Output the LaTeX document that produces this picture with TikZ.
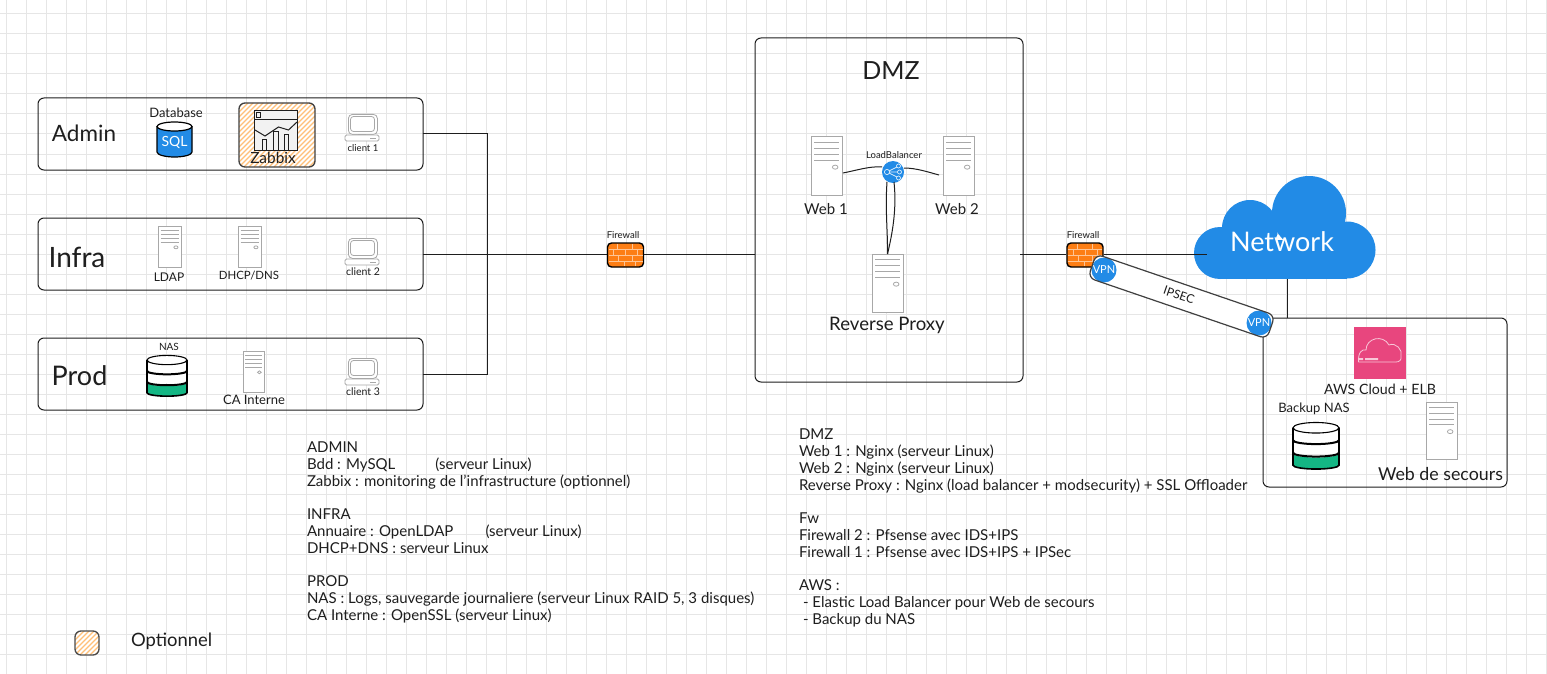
\documentclass[tikz,border=0pt]{standalone}
\usepackage{fontspec}
\setmainfont{Lato}
\usetikzlibrary{calc}
\definecolor{grille}{HTML}{E6E6E6}
\definecolor{encre}{HTML}{1E1E1E}
\definecolor{bleu}{HTML}{228BE6}
\definecolor{vert}{HTML}{14B684}
\definecolor{orange}{HTML}{FD7E14}
\definecolor{hachure}{HTML}{FFC078}
\definecolor{rose}{HTML}{E8467E}
\definecolor{gris}{HTML}{A8A8A8}
\newcommand\fs[1]{\fontsize{#1pt}{#1pt}\selectfont}
\tikzset{
  lbl/.style={inner sep=0pt,outer sep=0pt,text=encre},
  boite/.style={draw=encre,line width=1pt,rounded corners=6pt,inner sep=0pt,outer sep=0pt},
  lien/.style={draw=encre,line width=1pt},
  srv/.style={draw=gris,line width=1pt,fill=white,inner sep=0pt,outer sep=0pt},
  bloc/.style={lbl,anchor=north west,align=left,font=\fontsize{15pt}{16.75pt}\selectfont},
  badge/.style={circle,fill=bleu,text=white,inner sep=0pt,minimum size=25pt,font=\fs{11}},
}
\newcommand\serveur[5]{%
  \node[srv,anchor=north west,minimum width=#4pt,minimum height=#5pt] (#1) at (#2,#3) {};
  \begin{scope}[shift={(#2,#3)},x=#4pt,y=-#5pt,draw=gris,line width=.8pt]
    \foreach \l in {.10,.20,.30,.40} \draw (.11,\l) -- (.9,\l);
    \draw (.78,.52) ellipse[x radius=.09,y radius=.035];
  \end{scope}}
\newcommand\poste[3]{%
  \node[draw=gris,line width=.8pt,rounded corners=4pt,fill=white,inner sep=0pt,anchor=north west,minimum width=29pt,minimum height=20pt] (#1) at ({#2+3},#3) {};
  \begin{scope}[shift={(#2,#3)},draw=gris,line width=.8pt]
    \draw[rounded corners=3pt] (5.5,2.5) rectangle (29.5,17.5);
    \draw[rounded corners=1.5pt,fill=white] (0,21) rectangle (34,27);
    \draw (13,20) -- (21,20);
    \draw (25,24) -- (31,24);
  \end{scope}}
\newcommand\disque[5]{%
  \node[inner sep=0pt,minimum width=#4pt,minimum height=#5pt,anchor=north west] (#1) at (#2,#3) {};
  \begin{scope}[shift={(#2,#3)},x=#4pt,y=-#5pt,draw=black,line width=1.6pt]
    \fill[white] (0,.12) rectangle (1,.66);
    \fill[vert] (0,.66) arc[start angle=180,end angle=0,x radius=.5,y radius=.08] -- (1,.90) arc[start angle=0,end angle=180,x radius=.5,y radius=.08] -- cycle;
    \draw (0,.12) -- (0,.90) arc[start angle=180,end angle=0,x radius=.5,y radius=.08] -- (1,.12);
    \draw[line width=2pt] (0,.38) arc[start angle=180,end angle=0,x radius=.5,y radius=.08];
    \draw[line width=2pt] (0,.64) arc[start angle=180,end angle=0,x radius=.5,y radius=.08];
    \draw[fill=white,line width=1.1pt] (.5,.12) ellipse[x radius=.5,y radius=.11];
  \end{scope}}
\newcommand\parefeu[3]{%
  \node[draw=black,line width=1.4pt,fill=orange,rounded corners=4pt,inner sep=0pt,minimum width=36pt,minimum height=24pt] (#1) at (#2,#3) {};
  \begin{scope}[shift={(#2,#3)},draw=orange!45!white,line width=.9pt]
    \draw (-17,-6) -- (17,-6) (-17,0) -- (17,0) (-17,6) -- (17,6);
    \draw (-8,-11) -- (-8,-6) (7,-11) -- (7,-6) (-12,-6) -- (-12,0) (0,-6) -- (0,0) (12,-6) -- (12,0)
          (-7,0) -- (-7,6) (7,0) -- (7,6) (-1,6) -- (-1,11) (10,6) -- (10,11);
  \end{scope}}
\newcommand\hachurer[4]{%
  \begin{scope}
    \fill[white,rounded corners=6pt] (#1,#2) rectangle (#3,#4);
    \clip[rounded corners=6pt] (#1,#2) rectangle (#3,#4);
    \foreach \n in {0,...,32}
      \draw[hachure,line width=1.1pt] ({#1-70+\n*5},#4) -- ({#1+\n*5},{#4-70});
  \end{scope}}
\begin{document}
\begin{tikzpicture}[x=1pt,y=-1pt]
\useasboundingbox (0,0) rectangle (1547,674);
\fill[white] (0,0) rectangle (1547,674);
\foreach \n in {0,...,77} \draw[grille,line width=1pt] ({6.5+20*\n},0) -- ({6.5+20*\n},674);
\foreach \n in {0,...,33} \draw[grille,line width=1pt] (0,{14+20*\n}) -- (1547,{14+20*\n});

% zones
\node[boite,minimum width=385pt,minimum height=72pt] (admin) at (230.5,134) {};
\node[boite,minimum width=385pt,minimum height=72pt] (infra) at (230.5,254) {};
\node[boite,minimum width=385pt,minimum height=72pt] (prod) at (230.5,374) {};
\node[boite,minimum width=268pt,minimum height=344pt] (dmz) at (889,210) {};
\node[boite,minimum width=244pt,minimum height=169pt] (aws) at (1385,402.5) {};

\node[lbl,font=\fs{22.5}] (tadmin) at (84,133) {Admin};
\node[lbl,font=\fs{28}] (tinfra) at (77,257) {Infra};
\node[lbl,font=\fs{27}] (tprod) at (79.5,376) {Prod};
\node[lbl,font=\fs{25}] (tdmz) at (891,71) {DMZ};

% Admin
\node[lbl,font=\fs{13}] (tdb) at (176,113) {Database};
\node[inner sep=0pt,minimum width=35pt,minimum height=35pt] (sql) at (174.5,139.5) {};
\fill[bleu] (157,127) -- (157,152) arc[start angle=180,end angle=0,x radius=17.5,y radius=5] -- (192,127) -- cycle;
\draw[black,line width=1.2pt] (157,127) -- (157,152) arc[start angle=180,end angle=0,x radius=17.5,y radius=5] -- (192,127);
\draw[black,line width=1.2pt,fill=white] (174.5,126.5) ellipse[x radius=17.5,y radius=4.5];
\node[lbl,text=white,font=\fs{14}] (tsql) at (174.5,142) {SQL};

\hachurer{239}{103}{315}{167}
\node[boite,draw=encre!85,line width=1.3pt,minimum width=76pt,minimum height=64pt] (zabbix) at (277,135) {};
\draw[encre,line width=1pt,fill=black!5] (254,111) rectangle (297,151);
\draw[encre,line width=1pt] (254,120) -- (297,120);
\draw[encre,line width=1pt] (256,113) rectangle (260,118);
\draw[encre,line width=1pt] (255,130) -- (265,136) -- (278.5,127) -- (288.5,130) -- (297,122);
\draw[encre,line width=1pt] (262,151) -- (262,140) -- (266,140) -- (266,151)
  (273,151) -- (273,132) -- (278,132) -- (278,151)
  (284,151) -- (284,135) -- (288.5,135) -- (288.5,151);
\node[lbl,font=\fs{15.4}] (tzabbix) at (273,158) {Zabbix};

\poste{c1}{345}{114}
\node[lbl,font=\fs{9.5}] (tc1) at (363,148) {client 1};

% Infra
\serveur{ldap}{158}{226}{23}{41}
\serveur{dhcp}{238}{226}{23}{41}
\poste{c2}{345}{238}
\node[lbl,font=\fs{12}] (tldap) at (169,277) {LDAP};
\node[lbl,font=\fs{11.4}] (tdhcp) at (249,276) {DHCP/DNS};
\node[lbl,font=\fs{10.5}] (tc2) at (363,272) {client 2};

% Prod
\disque{nas}{147}{355}{40}{42}
\node[lbl,font=\fs{10}] (tnas) at (169,347) {NAS};
\serveur{ca}{243}{351}{21}{41}
\node[lbl,font=\fs{13}] (tca) at (254,400) {CA Interne};
\poste{c3}{345}{358}
\node[lbl,font=\fs{10.5}] (tc3) at (363,392) {client 3};

% DMZ
\serveur{web1}{811}{137}{31}{58}
\serveur{web2}{943}{137}{31}{58}
\serveur{rp}{872}{254}{31}{58}
\node[lbl,font=\fs{15}] (tw1) at (826,209) {Web 1};
\node[lbl,font=\fs{15}] (tw2) at (957,209) {Web 2};
\node[lbl,font=\fs{18.6}] (trp) at (887,325) {Reverse Proxy};
\node[lbl,font=\fs{9.5}] (tlb) at (894,155) {LoadBalancer};
\node[circle,fill=bleu,inner sep=0pt,minimum size=22pt] (lb) at (893,172) {};
\begin{scope}[shift={(893,172)},draw=white!85!bleu,line width=.7pt]
  \draw (-6,0) -- (6,-6) (-6,0) -- (6,0) (-6,0) -- (6,6);
  \draw[fill=bleu] (-6,0) circle[radius=2.6pt] (5.5,-6) circle[radius=2pt] (6.5,0) circle[radius=2pt] (5.5,6) circle[radius=2pt];
\end{scope}
\coordinate (w1p) at (843,173);
\coordinate (w2p) at (939,175);
\coordinate (lbg) at (882,167);
\coordinate (lbd) at (904,168);
\coordinate (lbb1) at (887,182);
\coordinate (lbb2) at (894,182);
\draw[lien] (w1p) .. controls (858,170) and (870,166) .. (lbg);
\draw[lien] (lbd) .. controls (916,168) and (928,172) .. (w2p);
\draw[lien] (lbb1) .. controls (885,210) and (888,235) .. (rp.north);
\draw[lien] (lbb2) .. controls (897,210) and (892,235) .. (rp.north);

% nuage
\begin{scope}[bleu]
  \fill (1220,253) circle[radius=26pt];
  \fill (1250,228) circle[radius=28pt];
  \fill (1309,213) circle[radius=37pt];
  \fill (1347,250) circle[radius=28.5pt];
  \fill (1220,240) rectangle (1347,279);
\end{scope}
\node[lbl,text=white,font=\fs{27}] (net) at (1282,242) {Network};
\coordinate (netin) at (1207,254);
\coordinate (netout) at (1287,279);
\coordinate (dmzout) at (1020,254);

% pare-feu et liens
\node[lbl,font=\fs{9.5}] (tfw1) at (623,235) {Firewall};
\node[lbl,font=\fs{9.5}] (tfw2) at (1083,235) {Firewall};
\coordinate (jonction) at (487,254);
\draw[lien] (admin.east) -| (jonction);
\draw[lien] (prod.east) -| (jonction);
\parefeu{fw1}{625.5}{255}
\parefeu{fw2}{1085}{255}
\draw[lien] (infra.east) -- (infra.east -| fw1.west);
\draw[lien] (fw1.east |- infra.east) -- (infra.east -| dmz.west);
\draw[lien] (dmzout) -- (dmzout -| fw2.west);
\draw[lien] (fw2.east |- netin) -- (netin);
\draw[lien] (netout) -- (netout |- aws.north);

% IPSEC
\node[fill=white,rounded corners=7pt,rotate=-18.9,minimum width=189pt,minimum height=25pt,inner sep=0pt] (bande) at (1181.5,296.5) {};
\node[badge] (vpn1) at (1104,270) {VPN};
\node[badge] (vpn2) at (1259,323) {VPN};
\node[draw=encre!85,line width=1.2pt,rounded corners=7pt,rotate=-18.9,minimum width=189pt,minimum height=25pt,inner sep=0pt] (cadre) at (1181.5,296.5) {};
\node[lbl,rotate=-18.9,font=\fs{12}] (tipsec) at (1179,295) {IPSEC};

% AWS
\node[fill=rose,inner sep=0pt,minimum width=52pt,minimum height=52pt] (cloud) at (1380,353) {};
\draw[white!70!rose,line width=.8pt] (1358.5,362) .. controls (1358,352) and (1362,349) .. (1366,350)
  .. controls (1366,338) and (1383,334) .. (1389,345) .. controls (1396,342) and (1403,350) .. (1401,356)
  .. controls (1402,360) and (1399,362) .. (1396,362) -- (1358.5,362);
\fill[white!70!rose] (1359,358) rectangle (1363,360) (1365,358) rectangle (1378,360);
\node[lbl,font=\fs{14.2}] (taws) at (1380,389) {AWS Cloud + ELB};
\node[lbl,font=\fs{13}] (tbk) at (1314,409) {Backup NAS};
\disque{nasb}{1293}{422}{46}{48}
\serveur{sec}{1426}{402}{31}{57}
\node[lbl,font=\fs{17.8}] (tsec) at (1440.5,474) {Web de secours};

% textes
\node[bloc] (ba) at (307,442) {ADMIN\\Bdd : MySQL\hspace{40pt}(serveur Linux)\\Zabbix : monitoring de l'infrastructure (optionnel)\\[16.75pt]INFRA\\Annuaire : OpenLDAP\hspace{32pt}(serveur Linux)\\DHCP+DNS : serveur Linux\\[16.75pt]PROD\\NAS : Logs, sauvegarde journaliere (serveur Linux RAID 5, 3 disques)\\CA Interne : OpenSSL (serveur Linux)};
\node[bloc] (bd) at (799,429) {DMZ\\Web 1 : Nginx (serveur Linux)\\Web 2 : Nginx (serveur Linux)\\Reverse Proxy : Nginx (load balancer + modsecurity) + SSL Offloader\\[16.75pt]Fw\\Firewall 2 : Pfsense avec IDS+IPS\\Firewall 1 : Pfsense avec IDS+IPS + IPSec\\[16.75pt]AWS :\\\hspace{4pt}- Elastic Load Balancer pour Web de secours\\\hspace{4pt}- Backup du NAS};

% legende
\hachurer{75}{631}{99}{655}
\node[boite,draw=encre!80,line width=1.3pt,minimum width=24pt,minimum height=24pt] (leg) at (87,643) {};
\node[lbl,font=\fs{18.4},anchor=west] (tleg) at (131,641) {Optionnel};
\end{tikzpicture}
\end{document}
